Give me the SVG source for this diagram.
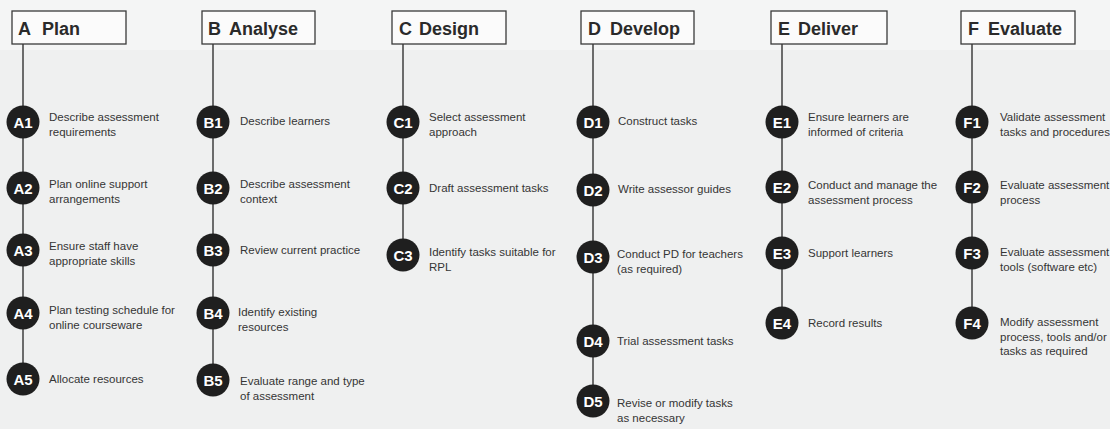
<svg xmlns="http://www.w3.org/2000/svg" width="1110" height="429" viewBox="0 0 1110 429">
<style>
.bg{fill:#eff0f0}
.hdr rect{fill:#fbfbfb;stroke:#3a3a3a;stroke-width:1.3}
.hdr text{font-family:"Liberation Sans",Arial,sans-serif;font-weight:bold;font-size:18px;fill:#2a2a2a}
.conn line{stroke:#4a4a4a;stroke-width:1.6}
.step circle{fill:#1f1f1f}
.step .id{font-family:"Liberation Sans",Arial,sans-serif;font-weight:bold;font-size:15px;fill:#ffffff;text-anchor:middle}
.step .lbl{font-family:"Liberation Sans",Arial,sans-serif;font-size:11.5px;fill:#353535}
</style>
<rect class="bg" x="0" y="0" width="1110" height="429"/>
<rect x="0" y="0" width="1110" height="50" fill="#f4f5f5"/>

<g id="connectors" class="conn">
<line x1="23" y1="44" x2="23" y2="379"/>
<line x1="213" y1="44" x2="213" y2="380"/>
<line x1="403" y1="44" x2="403" y2="255"/>
<line x1="593" y1="44" x2="593" y2="401"/>
<line x1="782" y1="44" x2="782" y2="323"/>
<line x1="972" y1="44" x2="972" y2="323"/>
</g>

<g id="hdr-A" class="hdr"><rect x="12" y="11" width="114" height="33"/><text x="18" y="35">A<tspan x="42">Plan</tspan></text></g>
<g id="hdr-B" class="hdr"><rect x="202" y="11" width="113" height="33"/><text x="208" y="35">B<tspan x="229">Analyse</tspan></text></g>
<g id="hdr-C" class="hdr"><rect x="392" y="11" width="114" height="33"/><text x="399" y="35">C<tspan x="419">Design</tspan></text></g>
<g id="hdr-D" class="hdr"><rect x="581" y="11" width="113" height="33"/><text x="588" y="35">D<tspan x="610">Develop</tspan></text></g>
<g id="hdr-E" class="hdr"><rect x="771" y="11" width="116" height="33"/><text x="778" y="35">E<tspan x="798">Deliver</tspan></text></g>
<g id="hdr-F" class="hdr"><rect x="961" y="11" width="114" height="33"/><text x="968" y="35">F<tspan x="988">Evaluate</tspan></text></g>

<g id="A1" class="step"><circle cx="23" cy="122" r="16.5"/><text class="id" x="23" y="127.5">A1</text><text class="lbl" x="49" y="121">Describe assessment<tspan x="49" dy="14.5">requirements</tspan></text></g>
<g id="A2" class="step"><circle cx="23" cy="188" r="16.5"/><text class="id" x="23" y="193.5">A2</text><text class="lbl" x="49" y="188">Plan online support<tspan x="49" dy="14.5">arrangements</tspan></text></g>
<g id="A3" class="step"><circle cx="23" cy="250" r="16.5"/><text class="id" x="23" y="255.5">A3</text><text class="lbl" x="49" y="250">Ensure staff have<tspan x="49" dy="14.5">appropriate skills</tspan></text></g>
<g id="A4" class="step"><circle cx="23" cy="313" r="16.5"/><text class="id" x="23" y="318.5">A4</text><text class="lbl" x="49" y="314">Plan testing schedule for<tspan x="49" dy="14.5">online courseware</tspan></text></g>
<g id="A5" class="step"><circle cx="23" cy="379" r="16.5"/><text class="id" x="23" y="384.5">A5</text><text class="lbl" x="49" y="383">Allocate resources</text></g>

<g id="B1" class="step"><circle cx="213" cy="122" r="16.5"/><text class="id" x="213" y="127.5">B1</text><text class="lbl" x="240" y="125">Describe learners</text></g>
<g id="B2" class="step"><circle cx="213" cy="188" r="16.5"/><text class="id" x="213" y="193.5">B2</text><text class="lbl" x="240" y="188">Describe assessment<tspan x="240" dy="14.5">context</tspan></text></g>
<g id="B3" class="step"><circle cx="213" cy="250" r="16.5"/><text class="id" x="213" y="255.5">B3</text><text class="lbl" x="240" y="254">Review current practice</text></g>
<g id="B4" class="step"><circle cx="213" cy="313" r="16.5"/><text class="id" x="213" y="318.5">B4</text><text class="lbl" x="238" y="316">Identify existing<tspan x="238" dy="14.5">resources</tspan></text></g>
<g id="B5" class="step"><circle cx="213" cy="380" r="16.5"/><text class="id" x="213" y="385.5">B5</text><text class="lbl" x="240" y="385">Evaluate range and type<tspan x="240" dy="14.5">of assessment</tspan></text></g>

<g id="C1" class="step"><circle cx="403" cy="122" r="16.5"/><text class="id" x="403" y="127.5">C1</text><text class="lbl" x="429" y="121">Select assessment<tspan x="429" dy="14.5">approach</tspan></text></g>
<g id="C2" class="step"><circle cx="403" cy="188" r="16.5"/><text class="id" x="403" y="193.5">C2</text><text class="lbl" x="429" y="192">Draft assessment tasks</text></g>
<g id="C3" class="step"><circle cx="403" cy="255" r="16.5"/><text class="id" x="403" y="260.5">C3</text><text class="lbl" x="429" y="256">Identify tasks suitable for<tspan x="429" dy="14.5">RPL</tspan></text></g>

<g id="D1" class="step"><circle cx="593" cy="122" r="16.5"/><text class="id" x="593" y="127.5">D1</text><text class="lbl" x="618" y="125">Construct tasks</text></g>
<g id="D2" class="step"><circle cx="593" cy="190" r="16.5"/><text class="id" x="593" y="195.5">D2</text><text class="lbl" x="618" y="193">Write assessor guides</text></g>
<g id="D3" class="step"><circle cx="593" cy="257" r="16.5"/><text class="id" x="593" y="262.5">D3</text><text class="lbl" x="617" y="258">Conduct PD for teachers<tspan x="617" dy="14.5">(as required)</tspan></text></g>
<g id="D4" class="step"><circle cx="593" cy="341" r="16.5"/><text class="id" x="593" y="346.5">D4</text><text class="lbl" x="617" y="345">Trial assessment tasks</text></g>
<g id="D5" class="step"><circle cx="593" cy="401" r="16.5"/><text class="id" x="593" y="406.5">D5</text><text class="lbl" x="617" y="407">Revise or modify tasks<tspan x="617" dy="14.5">as necessary</tspan></text></g>

<g id="E1" class="step"><circle cx="782" cy="122" r="16.5"/><text class="id" x="782" y="127.5">E1</text><text class="lbl" x="808" y="121">Ensure learners are<tspan x="808" dy="14.5">informed of criteria</tspan></text></g>
<g id="E2" class="step"><circle cx="782" cy="187" r="16.5"/><text class="id" x="782" y="192.5">E2</text><text class="lbl" x="808" y="189">Conduct and manage the<tspan x="808" dy="14.5">assessment process</tspan></text></g>
<g id="E3" class="step"><circle cx="782" cy="253" r="16.5"/><text class="id" x="782" y="258.5">E3</text><text class="lbl" x="808" y="257">Support learners</text></g>
<g id="E4" class="step"><circle cx="782" cy="323" r="16.5"/><text class="id" x="782" y="328.5">E4</text><text class="lbl" x="808" y="327">Record results</text></g>

<g id="F1" class="step"><circle cx="972" cy="122" r="16.5"/><text class="id" x="972" y="127.5">F1</text><text class="lbl" x="1000" y="121">Validate assessment<tspan x="1000" dy="14.5">tasks and procedures</tspan></text></g>
<g id="F2" class="step"><circle cx="972" cy="187" r="16.5"/><text class="id" x="972" y="192.5">F2</text><text class="lbl" x="1000" y="189">Evaluate assessment<tspan x="1000" dy="14.5">process</tspan></text></g>
<g id="F3" class="step"><circle cx="972" cy="253" r="16.5"/><text class="id" x="972" y="258.5">F3</text><text class="lbl" x="1000" y="256">Evaluate assessment<tspan x="1000" dy="14.5">tools (software etc)</tspan></text></g>
<g id="F4" class="step"><circle cx="972" cy="323" r="16.5"/><text class="id" x="972" y="328.5">F4</text><text class="lbl" x="1000" y="326">Modify assessment<tspan x="1000" dy="14.5">process, tools and/or</tspan><tspan x="1000" dy="14.5">tasks as required</tspan></text></g>
</svg>
